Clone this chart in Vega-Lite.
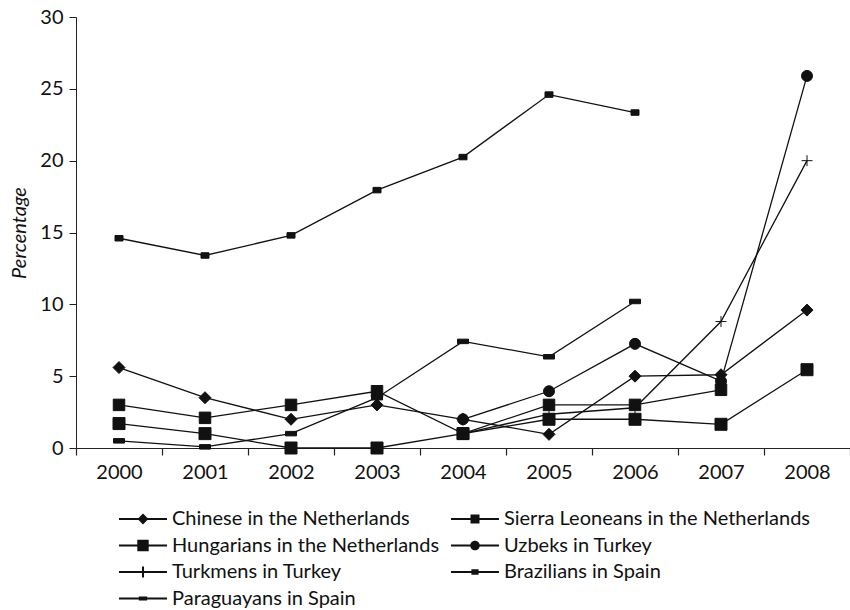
{
  "$schema": "https://vega.github.io/schema/vega-lite/v6.json",
  "width": 774,
  "height": 431,
  "autosize": "none",
  "padding": {"left": 76, "top": 17, "right": 0, "bottom": 162},
  "background": "white",
  "config": {
    "view": {"stroke": null},
    "font": "Lato",
    "axis": {"domainColor": "#222", "tickColor": "#222", "labelColor": "#111", "titleColor": "#111", "labelFont": "Lato", "titleFont": "Lato", "labelFontSize": 20, "titleFontSize": 20, "titleFontWeight": "normal", "grid": false}
  },
  "data": {"values": [
    {"year": "2000", "series": "Chinese in the Netherlands", "value": 5.6},
    {"year": "2001", "series": "Chinese in the Netherlands", "value": 3.5},
    {"year": "2002", "series": "Chinese in the Netherlands", "value": 2.0},
    {"year": "2003", "series": "Chinese in the Netherlands", "value": 3.0},
    {"year": "2004", "series": "Chinese in the Netherlands", "value": 2.0},
    {"year": "2005", "series": "Chinese in the Netherlands", "value": 0.95},
    {"year": "2006", "series": "Chinese in the Netherlands", "value": 5.0},
    {"year": "2007", "series": "Chinese in the Netherlands", "value": 5.1},
    {"year": "2008", "series": "Chinese in the Netherlands", "value": 9.6},
    {"year": "2000", "series": "Sierra Leoneans in the Netherlands", "value": 3.0},
    {"year": "2001", "series": "Sierra Leoneans in the Netherlands", "value": 2.1},
    {"year": "2002", "series": "Sierra Leoneans in the Netherlands", "value": 3.0},
    {"year": "2003", "series": "Sierra Leoneans in the Netherlands", "value": 3.95},
    {"year": "2004", "series": "Sierra Leoneans in the Netherlands", "value": 1.0},
    {"year": "2005", "series": "Sierra Leoneans in the Netherlands", "value": 3.0},
    {"year": "2006", "series": "Sierra Leoneans in the Netherlands", "value": 3.0},
    {"year": "2007", "series": "Sierra Leoneans in the Netherlands", "value": 4.05},
    {"year": "2000", "series": "Hungarians in the Netherlands", "value": 1.7},
    {"year": "2001", "series": "Hungarians in the Netherlands", "value": 1.0},
    {"year": "2002", "series": "Hungarians in the Netherlands", "value": 0.0},
    {"year": "2003", "series": "Hungarians in the Netherlands", "value": 0.0},
    {"year": "2004", "series": "Hungarians in the Netherlands", "value": 1.0},
    {"year": "2005", "series": "Hungarians in the Netherlands", "value": 2.0},
    {"year": "2006", "series": "Hungarians in the Netherlands", "value": 2.0},
    {"year": "2007", "series": "Hungarians in the Netherlands", "value": 1.65},
    {"year": "2008", "series": "Hungarians in the Netherlands", "value": 5.45},
    {"year": "2004", "series": "Uzbeks in Turkey", "value": 2.0},
    {"year": "2005", "series": "Uzbeks in Turkey", "value": 3.95},
    {"year": "2006", "series": "Uzbeks in Turkey", "value": 7.25},
    {"year": "2007", "series": "Uzbeks in Turkey", "value": 4.65},
    {"year": "2008", "series": "Uzbeks in Turkey", "value": 25.9},
    {"year": "2004", "series": "Turkmens in Turkey", "value": 1.0},
    {"year": "2005", "series": "Turkmens in Turkey", "value": 2.35},
    {"year": "2006", "series": "Turkmens in Turkey", "value": 2.8},
    {"year": "2007", "series": "Turkmens in Turkey", "value": 8.8},
    {"year": "2008", "series": "Turkmens in Turkey", "value": 20.0},
    {"year": "2000", "series": "Brazilians in Spain", "value": 14.6},
    {"year": "2001", "series": "Brazilians in Spain", "value": 13.4},
    {"year": "2002", "series": "Brazilians in Spain", "value": 14.8},
    {"year": "2003", "series": "Brazilians in Spain", "value": 17.95},
    {"year": "2004", "series": "Brazilians in Spain", "value": 20.25},
    {"year": "2005", "series": "Brazilians in Spain", "value": 24.6},
    {"year": "2006", "series": "Brazilians in Spain", "value": 23.35},
    {"year": "2000", "series": "Paraguayans in Spain", "value": 0.5},
    {"year": "2001", "series": "Paraguayans in Spain", "value": 0.08},
    {"year": "2002", "series": "Paraguayans in Spain", "value": 1.0},
    {"year": "2003", "series": "Paraguayans in Spain", "value": 3.5},
    {"year": "2004", "series": "Paraguayans in Spain", "value": 7.42},
    {"year": "2005", "series": "Paraguayans in Spain", "value": 6.35},
    {"year": "2006", "series": "Paraguayans in Spain", "value": 10.2}
  ]},
  "encoding": {
    "x": {
      "field": "year", "type": "ordinal", "bandPosition": 0.5,
      "scale": {"type": "band", "paddingInner": 0, "paddingOuter": 0, "domain": ["2000","2001","2002","2003","2004","2005","2006","2007","2008"]},
      "axis": {"title": null, "tickBand": "extent", "tickSize": 7, "labelPadding": 7, "labelAngle": 0, "domainWidth": 1, "tickWidth": 1.2}
    },
    "y": {
      "field": "value", "type": "quantitative",
      "scale": {"domain": [0, 30], "nice": false, "zero": true},
      "axis": {"title": "Percentage", "titleFontStyle": "italic", "values": [0,5,10,15,20,25,30], "tickSize": 7, "labelPadding": 6, "titlePadding": 10, "domainWidth": 1}
    }
  },
  "resolve": {"scale": {"shape": "independent"}, "legend": {"shape": "independent"}},
  "layer": [
    {
      "mark": {"type": "line", "strokeWidth": 1.3, "color": "#111"},
      "encoding": {
        "detail": {"field": "series", "type": "nominal"}
      }
    },
    {
      "mark": {"type": "point", "filled": true, "fill": "#111", "stroke": "#111", "strokeWidth": 1, "size": 100, "opacity": 1},
      "encoding": {
        "shape": {
          "field": "series", "type": "nominal", "legend": null,
          "scale": {
            "domain": ["Chinese in the Netherlands", "Sierra Leoneans in the Netherlands", "Hungarians in the Netherlands", "Uzbeks in Turkey", "Turkmens in Turkey", "Brazilians in Spain", "Paraguayans in Spain"],
            "range": [
              "M0,-1.2L1.2,0L0,1.2L-1.2,0Z",
              "M-1.15,-1.15H1.15V1.15H-1.15Z",
              "M-1.2,-1.2H1.2V1.2H-1.2Z",
              "M1.1,0A1.1,1.1,0,1,1,-1.1,0A1.1,1.1,0,1,1,1.1,0Z",
              "M-1.1,0H1.1M0,-1.1V1.1",
              "M-0.8,-0.55H0.8V0.55H-0.8Z",
              "M-1.1,-0.45H1.1V0.45H-1.1Z"
            ]
          }
        }
      }
    },
    {
      "transform": [{"filter": "datum.value < -1"}],
      "mark": {"type": "point", "filled": true, "color": "#111", "opacity": 1},
      "encoding": {
        "shape": {
          "field": "series", "type": "nominal",
          "scale": {
            "domain": ["Chinese in the Netherlands", "Sierra Leoneans in the Netherlands", "Hungarians in the Netherlands", "Uzbeks in Turkey", "Turkmens in Turkey", "Brazilians in Spain", "Paraguayans in Spain"],
            "range": [
              "M-4,-0.17H4V0.17H-4ZM0,-0.9L0.9,0L0,0.9L-0.9,0Z",
              "M-4,-0.17H4V0.17H-4ZM-0.75,-0.75H0.75V0.75H-0.75Z",
              "M-4,-0.17H4V0.17H-4ZM-0.95,-0.95H0.95V0.95H-0.95Z",
              "M-4,-0.17H4V0.17H-4ZM0.8,0A0.8,0.8,0,1,1,-0.8,0A0.8,0.8,0,1,1,0.8,0Z",
              "M-4,-0.17H4V0.17H-4ZM-0.17,-0.9H0.17V0.9H-0.17Z",
              "M-4,-0.17H4V0.17H-4ZM-0.6,-0.45H0.6V0.45H-0.6Z",
              "M-4,-0.17H4V0.17H-4ZM-0.7,-0.35H0.7V0.35H-0.7Z"
            ]
          },
          "legend": {
            "title": null,
            "orient": "none",
            "legendX": 57,
            "legendY": 492,
            "columns": 2,
            "direction": "horizontal",
            "columnPadding": 8,
            "rowPadding": 6.5,
            "symbolSize": 144,
            "symbolOpacity": 1,
            "symbolFillColor": "#111",
            "labelOffset": 19,
            "labelFont": "Lato",
            "labelFontSize": 20,
            "labelColor": "#111",
            "labelLimit": 500
          }
        }
      }
    }
  ]
}
